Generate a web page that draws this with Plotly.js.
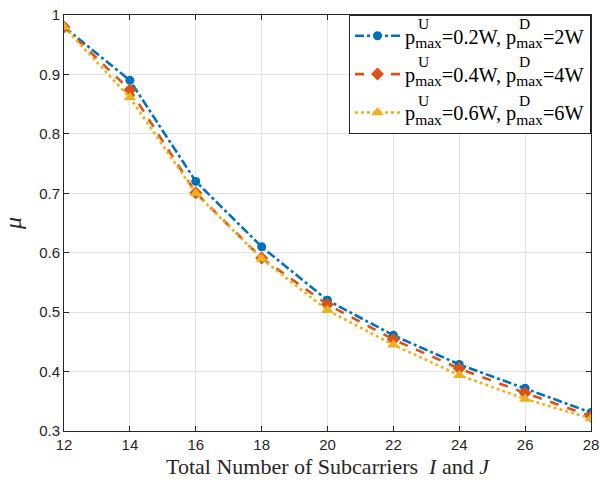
<!DOCTYPE html>
<html>
<head>
<meta charset="utf-8">
<script src="https://cdn.plot.ly/plotly-3.0.1.min.js"></script>
<style>html,body{margin:0;padding:0;background:#fff}#chart{width:600px;height:485px}</style>
</head>
<body>
<div id="chart"></div>
<script>
const subcarriers = [12, 14, 16, 18, 20, 22, 24, 26, 28];
const mu_02W_2W = [0.98, 0.89, 0.72, 0.61, 0.52, 0.461, 0.412, 0.372, 0.331];
const mu_04W_4W = [0.98, 0.874, 0.701, 0.591, 0.513, 0.454, 0.405, 0.364, 0.325];
const mu_06W_6W = [0.98, 0.861, 0.70, 0.59, 0.503, 0.445, 0.394, 0.354, 0.321];
const uplinkPower = ['0.2W', '0.4W', '0.6W'];
const downlinkPower = ['2W', '4W', '6W'];
const superscripts = ['U', 'D'];
const xTicks = [12, 14, 16, 18, 20, 22, 24, 26, 28];
const yTicks = [0.3, 0.4, 0.5, 0.6, 0.7, 0.8, 0.9, 1];

const SUB = '<sub><span style="font-size:15.5px">max</span></sub>';
const seriesNames = uplinkPower.map((u, i) => 'p' + SUB + '=' + u + ', p' + SUB + '=' + downlinkPower[i]);

const colors = ['#0072BD', '#D95319', '#EDB120'];
const traces = [
  {x: subcarriers, y: mu_02W_2W, name: seriesNames[0], legendgroup: 'a', mode: 'lines+markers',
   line: {color: colors[0], width: 2.6, dash: 'dashdot'},
   marker: {symbol: 'circle', size: 9, color: colors[0]}},
  {x: subcarriers, y: mu_04W_4W, name: seriesNames[1], legendgroup: 'b', mode: 'lines+markers',
   line: {color: colors[1], width: 2.6, dash: 'dash'},
   marker: {symbol: 'diamond', size: 10, color: colors[1]}},
  {x: subcarriers, y: mu_06W_6W, name: seriesNames[2], legendgroup: 'c', mode: 'lines+markers',
   line: {color: colors[2], width: 2.6, dash: 'dot'},
   marker: {symbol: 'triangle-up', size: 11, color: colors[2]}}
];

const L = 64, R = 591, T = 15, B = 431;
function px(x){return (x - L)/(R - L);}
function py(y){return (B - y)/(B - T);}

const layout = {
  width: 600, height: 485,
  margin: {l: L, r: 600 - R, t: T, b: 485 - B},
  paper_bgcolor: '#fff', plot_bgcolor: '#fff',
  showlegend: true,
  legend: {x: px(349), y: 1, xanchor: 'left', yanchor: 'top', traceorder: 'grouped',
    tracegroupgap: 9,
    bgcolor: '#fff', bordercolor: '#262626', borderwidth: 1,
    font: {family: 'Liberation Serif, Times New Roman, serif', size: 20.3, color: '#000'},
    itemwidth: 45},
  xaxis: {range: [12, 28], tickvals: xTicks, ticktext: xTicks.map(String),
    showgrid: true, gridcolor: '#e3e3e3', zeroline: false,
    showline: true, linecolor: '#262626', linewidth: 1, mirror: 'ticks',
    ticks: 'inside', ticklen: 5, tickcolor: '#262626',
    tickfont: {family: 'Liberation Sans, Arial, sans-serif', size: 15, color: '#262626'},
    title: {text: 'Total Number of Subcarriers  <i>I</i> and <i>J</i>', standoff: 6,
      font: {family: 'Liberation Serif, Times New Roman, serif', size: 22, color: '#262626'}}},
  yaxis: {range: [0.3, 1], tickvals: yTicks, ticktext: ['0.3','0.4','0.5','0.6','0.7','0.8','0.9','1'],
    showgrid: true, gridcolor: '#e3e3e3', zeroline: false,
    showline: true, linecolor: '#262626', linewidth: 1, mirror: 'ticks',
    ticks: 'inside', ticklen: 5, tickcolor: '#262626',
    tickfont: {family: 'Liberation Sans, Arial, sans-serif', size: 15, color: '#262626'},
    title: {text: '<i>μ</i>', standoff: 10,
      font: {family: 'Liberation Serif, Times New Roman, serif', size: 24, color: '#262626'}}}
};

Plotly.newPlot('chart', traces, layout, {displayModeBar: false, staticPlot: true}).then(gd => {
  const base = gd.getBoundingClientRect();
  const anns = [];
  gd.querySelectorAll('.legend .legendtext').forEach(t => {
    const subs = Array.from(t.querySelectorAll('tspan'))
      .filter(s => s.textContent === 'max' && !s.querySelector('tspan'));
    subs.forEach((s, j) => {
      const r = s.getBoundingClientRect();
      anns.push({text: superscripts[j % 2], xref: 'paper', yref: 'paper',
        x: px(r.left - base.left + 0.5), y: py(r.top - base.top - 10.5),
        showarrow: false, xanchor: 'left', yanchor: 'middle',
        font: {family: 'Liberation Serif, Times New Roman, serif', size: 15.5, color: '#000'}});
    });
  });
  return Plotly.relayout(gd, {annotations: anns});
});
</script>
</body>
</html>
